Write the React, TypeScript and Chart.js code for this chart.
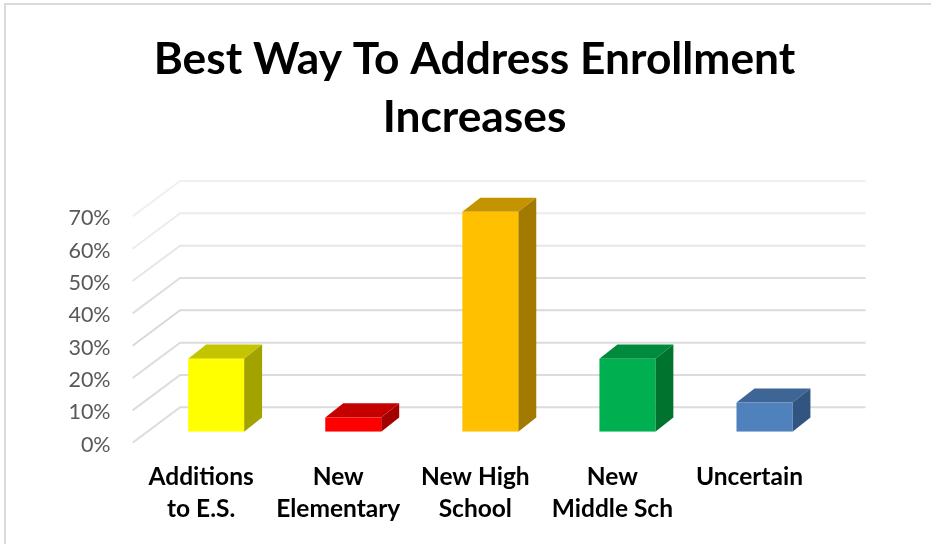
import React, { useEffect, useRef } from "react";
import { Chart, registerables } from "chart.js";

Chart.register(...registerables);

const chartTitle = ["Best Way To Address Enrollment", "Increases"];
const categories = [
  ["Additions", "to E.S."],
  ["New", "Elementary"],
  ["New High", "School"],
  ["New", "Middle Sch"],
  ["Uncertain"],
];
const shares = [22.6, 4.4, 68, 22.6, 9];
const frontColors = ["#ffff00", "#ff0000", "#ffc000", "#00b050", "#4f81bd"];
const topColors = ["#c4c400", "#c40000", "#c49300", "#008a3e", "#3d6596"];
const sideColors = ["#a3a300", "#a30000", "#a37a00", "#00732f", "#325480"];
const gridShades = ["#dcdcdc", "#dcdcdc", "#dcdcdc", "#d9d9d9", "#dedede", "#e6e6e6", "#ececec", "#f0f0f0"];

// Offsets of the 3D box: wall depth and bar depth, in pixels.
const WALL_BACK = { dx: 32.5, dy: -24.4 };
const WALL_FRONT = { dx: -15, dy: 11 };
const BAR_DEPTH = { dx: 18, dy: -14.2 };

const face = (ctx: CanvasRenderingContext2D, pts: number[][], fill: string) => {
  ctx.beginPath();
  pts.forEach(([x, y], i) => (i ? ctx.lineTo(x, y) : ctx.moveTo(x, y)));
  ctx.closePath();
  ctx.fillStyle = fill;
  ctx.fill();
};

const box3d = {
  id: "box3d",
  beforeDatasetsDraw(chart: any) {
    const { ctx, scales, chartArea } = chart;
    const y = scales.y;
    ctx.save();

    // Chart frame, visible only along the top and left edges.
    ctx.strokeStyle = "#d9d9d9";
    ctx.lineWidth = 2;
    ctx.beginPath();
    ctx.moveTo(5, 544);
    ctx.lineTo(5, 4);
    ctx.lineTo(931, 4);
    ctx.stroke();

    // Back wall and side wall gridlines.
    ctx.lineWidth = 2;
    y.ticks.forEach((tick: any, i: number) => {
      const p = y.getPixelForValue(tick.value);
      const bx = chartArea.left + WALL_BACK.dx;
      const by = p + WALL_BACK.dy;
      ctx.strokeStyle = gridShades[i];
      ctx.beginPath();
      ctx.moveTo(chartArea.left + WALL_FRONT.dx, p + WALL_FRONT.dy);
      ctx.lineTo(bx, by);
      ctx.lineTo(chartArea.right + WALL_BACK.dx, by);
      ctx.stroke();
    });

    // Top and side faces of each bar; the front face is the bar itself.
    chart.getDatasetMeta(0).data.forEach((bar: any, i: number) => {
      const l = bar.x - bar.width / 2;
      const r = bar.x + bar.width / 2;
      const { dx, dy } = BAR_DEPTH;
      face(ctx, [[l, bar.y], [r, bar.y], [r + dx, bar.y + dy], [l + dx, bar.y + dy]], topColors[i]);
      face(ctx, [[r, bar.y], [r + dx, bar.y + dy], [r + dx, bar.base + dy], [r, bar.base]], sideColors[i]);
    });
    ctx.restore();
  },
};

export default function App() {
  const canvasRef = useRef<HTMLCanvasElement>(null);

  useEffect(() => {
    document.body.style.margin = "0";
    const chart = new Chart(canvasRef.current!, {
      type: "bar",
      plugins: [box3d],
      data: {
        labels: categories,
        datasets: [
          {
            data: shares,
            backgroundColor: frontColors,
            barPercentage: 0.408,
            categoryPercentage: 1,
          },
        ],
      },
      options: {
        responsive: false,
        animation: false,
        layout: { padding: { top: 31, right: 0, left: 18, bottom: 0 } },
        plugins: {
          legend: { display: false },
          tooltip: { enabled: false },
          title: {
            display: true,
            text: chartTitle,
            color: "#000000",
            font: { family: "Lato", size: 44.3, weight: "bold", lineHeight: 1.3 },
            padding: { top: 0, bottom: 59.2 },
          },
        },
        scales: {
          x: {
            afterFit: (s: any) => {
              s.height = 112.3;
            },
            grid: { display: false, drawTicks: false },
            border: { display: false },
            ticks: {
              color: "#000000",
              font: { family: "Lato", size: 24.5, weight: "bold", lineHeight: 1.32 },
              padding: 29,
              labelOffset: -15,
              maxRotation: 0,
              autoSkip: false,
            },
          },
          y: {
            min: 0,
            max: 70,
            afterFit: (s: any) => {
              s.width = 129.6;
            },
            grid: { display: false, drawTicks: false },
            border: { display: false },
            ticks: {
              stepSize: 10,
              color: "#595959",
              font: { family: "Lato", size: 21.5 },
              padding: 37,
              labelOffset: 13,
              callback: (v: any) => `${v}%`,
            },
          },
          // Empty axis that reserves the margin to the right of the plot.
          rightMargin: {
            position: "right",
            grid: { display: false, drawTicks: false },
            border: { display: false },
            ticks: { display: false },
            afterFit: (s: any) => {
              s.width = 98;
            },
          },
        },
      },
    } as any);
    return () => chart.destroy();
  }, []);

  return <canvas ref={canvasRef} width={931} height={544} style={{ display: "block" }} />;
}
